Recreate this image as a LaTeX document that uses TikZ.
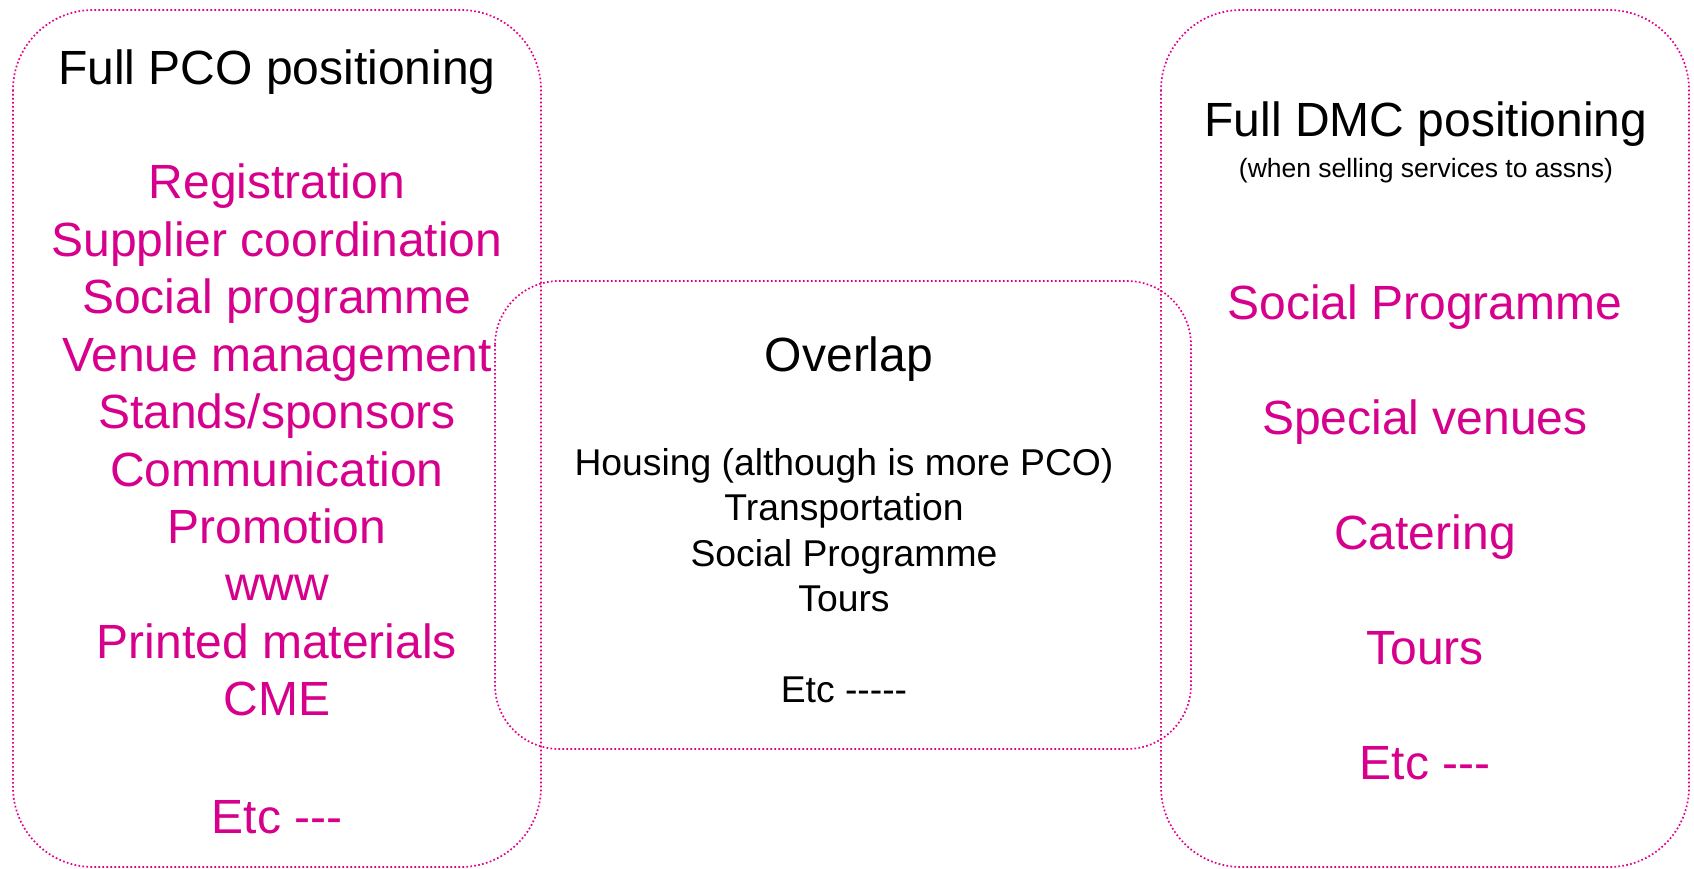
\documentclass[tikz,border=0pt]{standalone}
\usepackage{fontspec}
\setmainfont{Liberation Sans}[Ligatures=TeXOff]
\definecolor{pinktext}{RGB}{214,0,140}
\definecolor{pinkline}{RGB}{226,0,140}
\begin{document}
\begin{tikzpicture}[x=1pt,y=-1pt,
  frame/.style={draw=pinkline, line width=1.7pt, dash pattern=on 1.7pt off 2.3pt},
  heading/.style={font=\fontsize{48}{57}\selectfont, anchor=base, inner sep=0pt, text=black},
  subhead/.style={font=\fontsize{26.5}{32}\selectfont, anchor=base, inner sep=0pt, text=black},
  item/.style={font=\fontsize{48}{57}\selectfont, anchor=base, inner sep=0pt, text=pinktext},
  midline/.style={font=\fontsize{37.3}{45}\selectfont, anchor=base, inner sep=0pt, text=black}]
  \useasboundingbox (0,0) rectangle (1694,869);

  % three dotted frames
  \draw[frame, rounded corners=80pt] (13,10) rectangle (541,867);
  \draw[frame, rounded corners=80pt] (1161,10) rectangle (1689,867);
  \draw[frame, rounded corners=64pt] (495,281) rectangle (1191,749);

  % PCO column
  \node[heading] (pcotitle) at (277,85) {Full PCO positioning};
  \foreach \t [count=\i from 0] in {Registration, Supplier coordination,
      Social programme, Venue management, Stands/sponsors, Communication,
      Promotion, www, Printed materials, CME}
    \node[item] (pco\i) at (277,{199+\i*57.4}) {\t};
  \node[item] (pcoetc) at (277,833) {Etc ---};

  % overlap column
  \node[heading] (overlap) at (849,371) {Overlap};
  \foreach \t [count=\i from 0] in {Housing (although is more PCO), Transportation,
      Social Programme, Tours}
    \node[midline] (mid\i) at (844,{475+\i*45.6}) {\t};
  \node[midline] (midetc) at (844,702) {Etc -----};

  % DMC column
  \node[heading] (dmctitle) at (1426,137) {Full DMC positioning};
  \node[subhead] (dmcsub) at (1426,178) {(when selling services to assns)};
  \foreach \t [count=\i from 0] in {Social Programme, Special venues, Catering,
      Tours, Etc ---}
    \node[item] (dmc\i) at (1425,{319+\i*115}) {\t};
\end{tikzpicture}
\end{document}
